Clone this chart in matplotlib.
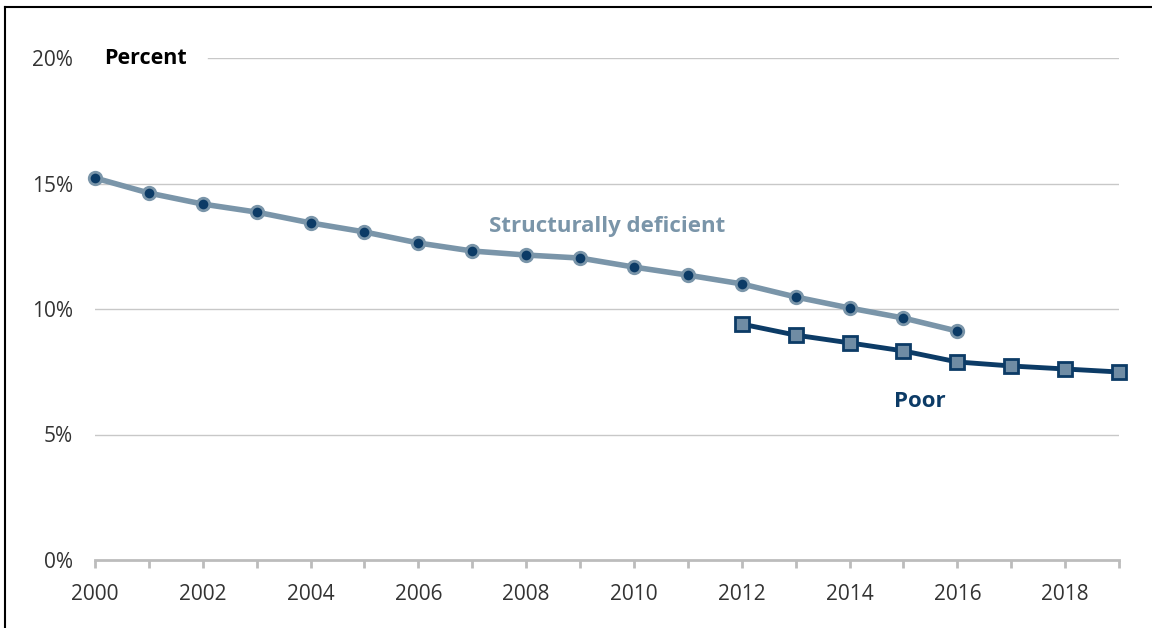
import matplotlib.pyplot as plt
from matplotlib.lines import Line2D

plt.rcParams['font.family'] = ['Open Sans', 'DejaVu Sans']

# share of bridges, percent
sd_years = list(range(2000, 2017))
sd_pct = [15.22, 14.62, 14.18, 13.86, 13.43, 13.07, 12.63, 12.31, 12.15,
          12.03, 11.67, 11.35, 11.0, 10.48, 10.04, 9.64, 9.12]
poor_years = list(range(2012, 2020))
poor_pct = [9.40, 8.96, 8.65, 8.33, 7.89, 7.73, 7.61, 7.49]

y_ticks = [0, 5, 10, 15, 20]
y_labels = ['0%', '5%', '10%', '15%', '20%']
x_labels = [2000, 2002, 2004, 2006, 2008, 2010, 2012, 2014, 2016, 2018]

light = '#7a95a9'
navy = '#0c3b66'

fig = plt.figure(figsize=(11.52, 6.28), dpi=100)
ax = fig.add_axes([95 / 1152, 1 - 560 / 628, 1024 / 1152, 502 / 628])

ax.set_xlim(2000, 2019)
ax.set_ylim(0, 20)

for v in y_ticks[1:]:
    x0 = 113 / 1024 if v == 20 else 0
    ax.axhline(v, xmin=x0, color='#c8c8c8', lw=1, zorder=1)

ax.plot(sd_years, sd_pct, color=light, lw=4, marker='o', ms=9,
        mfc=navy, mec=light, mew=2, zorder=3, clip_on=False)
ax.plot(poor_years, poor_pct, color=navy, lw=3.5, marker='s', ms=10,
        mfc='#6f8ca4', mec=navy, mew=2, zorder=4, clip_on=False)

for s in ['top', 'right', 'left']:
    ax.spines[s].set_visible(False)
ax.spines['bottom'].set_color('#bcbcbc')
ax.spines['bottom'].set_linewidth(2)
ax.spines['bottom'].set_zorder(2)

ax.set_yticks(y_ticks)
ax.set_yticklabels(y_labels)
ax.tick_params(axis='y', length=0, pad=16, labelsize=15, labelcolor='#333333')

ax.set_xticks(range(2000, 2020))
ax.set_xticklabels([str(y) if y in x_labels else '' for y in range(2000, 2020)])
ax.tick_params(axis='x', length=6, width=2, color='#bcbcbc', pad=11,
               labelsize=15, labelcolor='#333333')

ax.text(2000.17, 20, 'Percent', fontsize=15.5, fontweight='bold',
        color='black', va='center', ha='left')
ax.text(2009.5, 13.27, 'Structurally deficient', fontsize=16,
        fontweight='bold', color=light, ha='center', va='center')
ax.text(2015.3, 6.3, 'Poor', fontsize=16, fontweight='bold',
        color=navy, ha='center', va='center')

# frame lines on the left and top edge
fig.add_artist(Line2D([5 / 1152, 5 / 1152], [0, 1 - 7 / 628],
                      transform=fig.transFigure, color='black', lw=1.5))
fig.add_artist(Line2D([5 / 1152, 1], [1 - 7 / 628, 1 - 7 / 628],
                      transform=fig.transFigure, color='black', lw=1.5))

fig.savefig('out.png', dpi=100)
